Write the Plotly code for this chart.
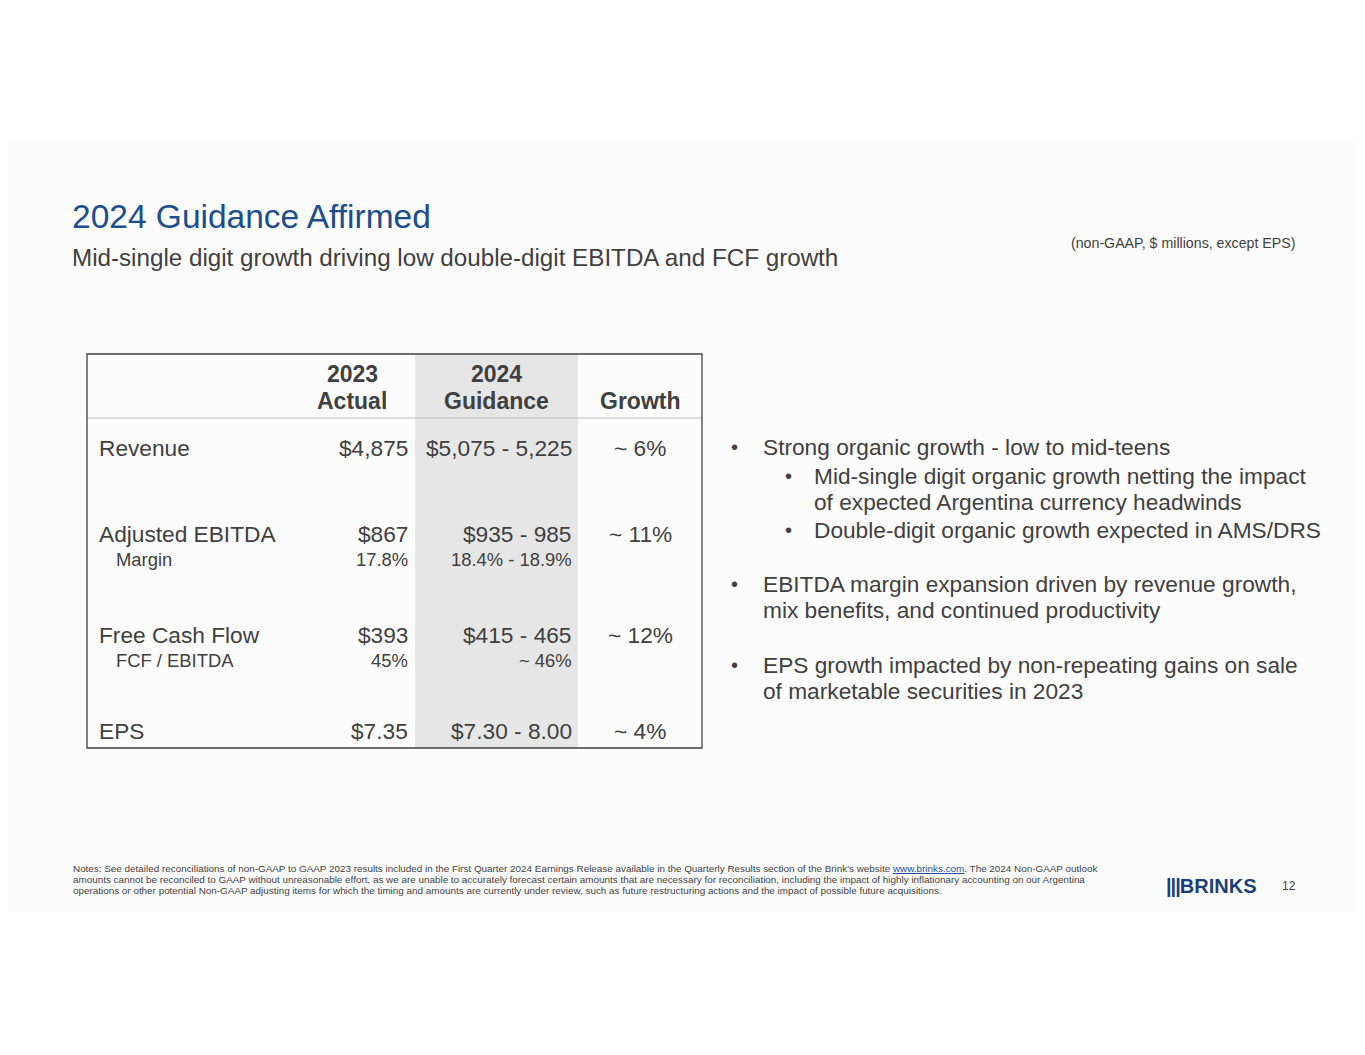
import plotly.graph_objects as go

rows = ["Revenue", "Adjusted EBITDA", "Free Cash Flow", "EPS"]
sub_rows = ["", "Margin", "FCF / EBITDA", ""]
actual = ["$4,875", "$867", "$393", "$7.35"]
actual_sub = ["", "17.8%", "45%", ""]
guidance = ["$5,075 - 5,225", "$935 - 985", "$415 - 465", "$7.30 - 8.00"]
guidance_sub = ["", "18.4% - 18.9%", "~ 46%", ""]
growth = ["~ 6%", "~ 11%", "~ 12%", "~ 4%"]
row_y = [448, 534, 635, 731]
bullets = [
    (0, ["Strong organic growth - low to mid-teens"]),
    (1, ["Mid-single digit organic growth netting the impact", "of expected Argentina currency headwinds"]),
    (1, ["Double-digit organic growth expected in AMS/DRS"]),
    (0, ["EBITDA margin expansion driven by revenue growth,", "mix benefits, and continued productivity"]),
    (0, ["EPS growth impacted by non-repeating gains on sale", "of marketable securities in 2023"]),
]
bullet_y = [447, 476, 530, 584, 665]
notes_lines = [
    "Notes: See detailed reconciliations of non-GAAP to GAAP 2023 results included in the First Quarter 2024 Earnings Release available in the Quarterly Results section of the Brink's website "
    "<span style='color:#1f4e99'><u>www.brinks.com</u></span>. The 2024 Non-GAAP outlook",
    "amounts cannot be reconciled to GAAP without unreasonable effort, as we are unable to accurately forecast certain amounts that are necessary for reconciliation, including the impact of highly inflationary accounting on our Argentina",
    "operations or other potential Non-GAAP adjusting items for which the timing and amounts are currently under review, such as future restructuring actions and the impact of possible future acquisitions.",
]

F = "Liberation Sans, Arial, sans-serif"
TXT = "#404040"
fig = go.Figure()
fig.add_trace(go.Scatter(x=[10, 1360], y=[10, 1050], mode="markers", marker=dict(opacity=0), hoverinfo="skip"))
shapes = [
    dict(type="rect", x0=0, x1=1373, y0=140, y1=912, fillcolor="#fcfcfc", line=dict(width=0), layer="below"),
    dict(type="rect", x0=415, x1=578, y0=355, y1=748, fillcolor="#e6e6e6", line=dict(width=0), layer="below"),
    dict(type="line", x0=87, x1=702, y0=418, y1=418, line=dict(color="#bfbfbf", width=1)),
    dict(type="rect", x0=87, x1=702, y0=354, y1=748, line=dict(color="#404040", width=1.3)),
]
ann = []
def A(x, y, t, size=22.7, color=TXT, xanchor="left", bold=False, align="left"):
    if bold:
        t = "<b>" + t + "</b>"
    ann.append(dict(x=x, y=y, text=t, showarrow=False, xanchor=xanchor, yanchor="middle",
                    align=align, font=dict(family=F, size=size, color=color)))

A(70, 216, "2024 Guidance Affirmed", size=33.5, color="#1b4d8f")
A(70, 257, "Mid-single digit growth driving low double-digit EBITDA and FCF growth", size=24.2)
A(1297, 243, "(non-GAAP, $ millions, except EPS)", size=14.2, xanchor="right")

A(352, 374, "2023", size=23, xanchor="center", bold=True)
A(352, 401, "Actual", size=23, xanchor="center", bold=True)
A(496, 374, "2024", size=23, xanchor="center", bold=True)
A(496, 401, "Guidance", size=23, xanchor="center", bold=True)
A(640, 401, "Growth", size=23, xanchor="center", bold=True)
for i in range(4):
    y = row_y[i]
    A(97, y, rows[i])
    A(410, y, actual[i], xanchor="right")
    A(574, y, guidance[i], xanchor="right")
    A(640, y, growth[i], xanchor="center")
    if sub_rows[i]:
        A(114, y + 25, sub_rows[i], size=18.4)
        A(410, y + 25, actual_sub[i], size=18.4, xanchor="right")
        A(574, y + 25, guidance_sub[i], size=18.4, xanchor="right")

for (lvl, lines), y in zip(bullets, bullet_y):
    bx = 729 if lvl == 0 else 783
    tx = 761 if lvl == 0 else 812
    A(bx, y, "•", size=20)
    for k, ln in enumerate(lines):
        A(tx, y + 26 * k, ln)

for k, ln in enumerate(notes_lines):
    A(71, 868 + 11 * k, ln, size=9.9)
A(1164, 886, "<span style='letter-spacing:-1px'>|||</span>BRINKS", size=20, color="#1b3f7a", bold=True)
A(1280, 886, "12", size=12)

fig.update_layout(width=1365, height=1055, margin=dict(l=0, r=0, t=0, b=0),
                  paper_bgcolor="white", plot_bgcolor="white", showlegend=False,
                  xaxis=dict(range=[8, 1373], visible=False, fixedrange=True),
                  yaxis=dict(range=[1063, 8], visible=False, fixedrange=True),
                  shapes=shapes, annotations=ann)
fig.write_html("out.html")
